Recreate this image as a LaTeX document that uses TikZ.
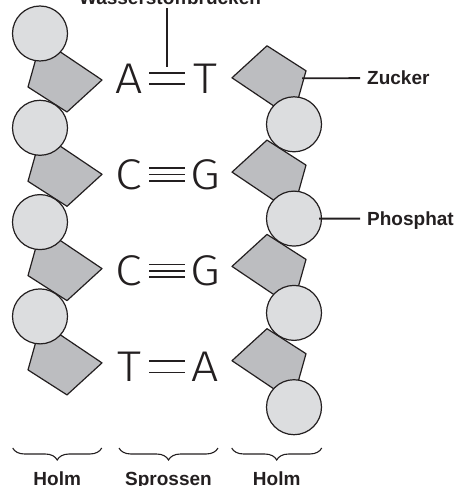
\documentclass[tikz,border=0pt]{standalone}
\usepackage{fontspec}
\setmainfont{Liberation Sans}
\newfontfamily\basefont[FakeStretch=1.12]{Fira Sans Light}
\usetikzlibrary{decorations.pathreplacing}

\definecolor{phosgray}{HTML}{DCDDDF}
\definecolor{sugargray}{HTML}{BCBDC0}
\definecolor{ink}{HTML}{231F20}

\tikzset{
  phosphate/.style={circle, draw=ink, line width=1.2pt, fill=phosgray, minimum size=55pt, inner sep=0pt},
  sugar/.style={draw=ink, line width=1.2pt, fill=sugargray, line join=round},
  letter/.style={font=\basefont\fontsize{43}{43}\selectfont, text=ink, minimum width=40pt,
    inner sep=0pt, text height=29.6pt, text depth=0pt},
  bond/.style={draw=ink, line width=1.8pt},
  tag/.style={font=\bfseries\fontsize{19}{19}\selectfont, text=ink, inner sep=0pt, text depth=0pt},
  leader/.style={draw=ink, line width=1.8pt},
  holm/.style={draw=ink, line width=1.1pt, decorate, decoration={brace, mirror, amplitude=12pt}},
  sugarring/.pic={\draw[sugar] (-12,53.5) -- (27,78.5) -- (62,46.5) -- (13.9,14.1) -- (-3.1,21.7) -- cycle;}
}

\begin{document}
\begin{tikzpicture}[x=1pt, y=-1pt]
    \useasboundingbox (0,0) rectangle (459,486);

    % Left strand: sugar below each phosphate
    \foreach \k in {0,...,3} {
        \pic at (40,33.5+94.3*\k) {sugarring};
        \node[phosphate] (l\k) at (40,33.5+94.3*\k) {};
    }

    % Right strand: same unit turned round, drawn bottom up
    \foreach \k in {3,2,1,0} {
        \pic[rotate=180] at (294,124.3+94.3*\k) {sugarring};
        \node[phosphate] (r\k) at (294,124.3+94.3*\k) {};
    }

    % Base pairs
    \foreach \l/\r [count=\k from 0] in {A/T, C/G, C/G, T/A} {
        \node[letter] (bl\k) at (129,78.5+96.1*\k) {\l};
        \node[letter] (br\k) at (205,78.5+96.1*\k) {\r};
    }
    % two hydrogen bonds for A-T, three for C-G
    \foreach \k in {0,3}
        \foreach \s in {-5.6,5.6}
            \draw[bond] ([yshift=\s pt]bl\k.east) -- ([yshift=\s pt]br\k.west);
    \foreach \k in {1,2}
        \foreach \s in {-6.2,0,6.2}
            \draw[bond] ([yshift=\s pt]bl\k.east) -- ([yshift=\s pt]br\k.west);

    % Labels
    \node[tag, anchor=base, inner ysep=3pt] (hbond) at (170,5) {Wasserstoffbrücken};
    \coordinate (hbend) at (167,67);
    \draw[leader] (hbend) -- (hbend |- hbond.south);

    \node[tag, anchor=base west, inner xsep=7pt] (zucker) at (360,85) {Zucker};
    \coordinate (zp) at ([shift={(8,-46)}]r0.center);
    \draw[leader] (zucker.west) -- (zp);

    \node[tag, anchor=base west, inner xsep=7pt] (phosphat) at (360,225.5) {Phosphat};
    \draw[leader] (phosphat.west) -- ([xshift=-3pt]r1.east);

    % Braces
    \foreach \a/\b/\t [count=\i] in {12.7/101.7/Holm, 119/218/Sprossen, 231.7/321.7/Holm} {
        \coordinate (s\i) at (\a,448);
        \coordinate (e\i) at (\b,448);
        \draw[holm] (s\i) -- (e\i);
        \node[tag, anchor=base] (part\i) at ({(\a+\b)/2},485.5) {\t};
    }
\end{tikzpicture}
\end{document}
